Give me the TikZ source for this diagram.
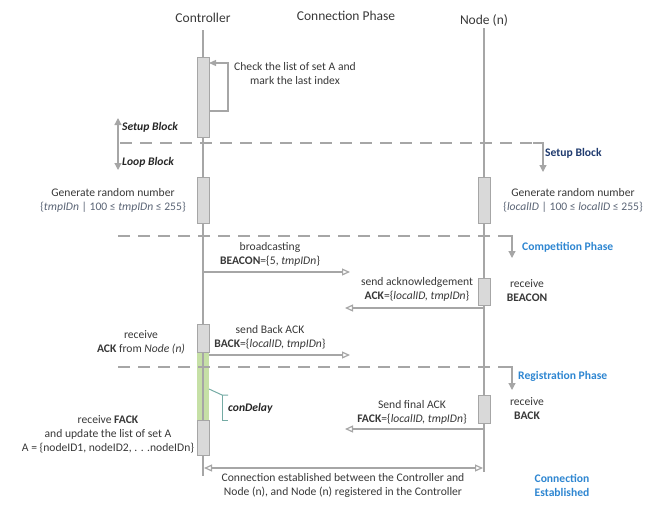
\documentclass[tikz,border=0pt]{standalone}
\usepackage{fontspec}
\setmainfont{Carlito}
\usetikzlibrary{arrows.meta}
\definecolor{lne}{HTML}{A6A6A6}
\definecolor{txt}{HTML}{383838}
\definecolor{boxfill}{HTML}{D9D9D9}
\definecolor{boxdraw}{HTML}{A6A6A6}
\definecolor{phaseblue}{HTML}{2E86D1}
\definecolor{setupblue}{HTML}{1F3A6E}
\definecolor{formula}{HTML}{5A6475}
\definecolor{greenbar}{HTML}{C6E0A6}
\definecolor{bracketc}{HTML}{74ABA4}
\tikzset{
  life/.style={draw=lne, line width=1.6pt},
  act/.style={draw=boxdraw, fill=boxfill, line width=0.9pt, minimum width=12pt, inner sep=0pt},
  msg/.style={draw=lne, line width=1.2pt, -{Triangle[open,length=8pt,width=7pt]}},
  dmsg/.style={draw=lne, line width=1.2pt, {Triangle[open,length=8pt,width=7pt]}-{Triangle[open,length=8pt,width=7pt]}},
  phaseline/.style={draw=lne, line width=1.2pt, dash pattern=on 12pt off 8pt},
  phasearrow/.style={draw=lne, line width=1.2pt, -{Triangle[length=7pt,width=7pt]}},
  lbl/.style={text=txt, font=\fontsize{11.6}{14}\selectfont, align=center, inner sep=0pt},
  ttl/.style={text=txt, font=\fontsize{13.5}{16}\selectfont, inner sep=0pt},
  phlbl/.style={text=phaseblue, font=\fontsize{11.6}{14}\selectfont\bfseries, align=left, inner sep=0pt, anchor=west},
  bilbl/.style={lbl, anchor=west, font=\fontsize{11.6}{14}\selectfont\bfseries\itshape, text=black!85},
}
\begin{document}
\begin{tikzpicture}[x=1pt,y=-1pt]
\useasboundingbox (0,0) rectangle (653,504);
% titles
\node[ttl] (tc) at (203,18) {Controller};
\node[ttl] (tp) at (346,16) {Connection Phase};
\node[ttl] (tn) at (484,20) {Node (n)};
% lifelines
\coordinate (ctop) at (203,30);
\coordinate (cbot) at (203,476);
\coordinate (ntop) at (484,28);
\coordinate (nbot) at (484,472);
\draw[life] (ctop) -- (cbot);
\draw[life] (ntop) -- (nbot);
% green delay bar
\node[fill=greenbar, minimum width=12pt, minimum height=68pt, inner sep=0pt] (gbar) at (203,386) {};
\draw[draw=lne, line width=1.6pt] (gbar.north) -- (gbar.south);
% activation boxes
\node[act, minimum height=80pt] (c1) at (203,97) {};
\node[act, minimum height=46pt] (c2) at (203,200) {};
\node[act, minimum height=28pt] (c3) at (203,338) {};
\node[act, minimum height=35pt] (c4) at (203,437.5) {};
\node[act, minimum height=46pt] (n1) at (484,200) {};
\node[act, minimum height=27pt] (n2) at (484,291.5) {};
\node[act, minimum height=28pt] (n3) at (484,409) {};
% self message
\coordinate (s1) at (209,111);
\coordinate (s2) at (228,111);
\coordinate (s3) at (228,63);
\coordinate (s4) at (209,63);
\draw[draw=lne, line width=1.2pt, -{Triangle[length=7pt,width=6pt]}] (s1) -- (s2) -- (s3) -- (s4);
\node[lbl] (selftxt) at (295,74) {Check the list of set A and\\mark the last index};
% setup / loop block arrow on left
\coordinate (lb0) at (118,143);
\coordinate (lbu) at (118,118);
\coordinate (lbd) at (118,170);
\draw[phasearrow] (lb0) -- (lbu);
\draw[phasearrow] (lb0) -- (lbd);
\node[bilbl] (sbl) at (122,127) {Setup Block};
\node[bilbl] (lbl1) at (122,162) {Loop Block};
% phase lines
\coordinate (p1a) at (120,143);
\coordinate (p1b) at (533,143);
\coordinate (p1c) at (543,143);
\coordinate (p1d) at (543,172);
\draw[phaseline] (p1a) -- (p1b);
\draw[phasearrow] (p1b) -- (p1c) -- (p1d);
\node[phlbl, text=setupblue] (sbr) at (545,153) {Setup Block};
\coordinate (p2a) at (118,236);
\coordinate (p2b) at (502,236);
\coordinate (p2c) at (512,236);
\coordinate (p2d) at (512,258);
\draw[phaseline] (p2a) -- (p2b);
\draw[phasearrow] (p2b) -- (p2c) -- (p2d);
\node[phlbl] (cph) at (522,247) {Competition Phase};
\coordinate (p3a) at (118,367);
\coordinate (p3b) at (502,367);
\coordinate (p3c) at (512,367);
\coordinate (p3d) at (512,390);
\draw[phaseline] (p3a) -- (p3b);
\draw[phasearrow] (p3b) -- (p3c) -- (p3d);
\node[phlbl] (rph) at (518,376) {Registration Phase};
% generate random number texts
\node[lbl] (gl) at (113,200) {Generate random number\\{\color{formula}\{\textit{tmpIDn} | 100 ≤ \textit{tmpIDn} ≤ 255\}}};
\node[lbl] (gr) at (573,200) {Generate random number\\{\color{formula}\{\textit{localID} | 100 ≤ \textit{localID} ≤ 255\}}};
% BEACON
\coordinate (bS) at (203,272);
\coordinate (bE) at (350,272);
\draw[msg] (bS) -- (bE);
\node[lbl] (bt) at (270,254) {broadcasting\\\textbf{BEACON}=\{5, \textit{tmpIDn}\}};
% ACK
\coordinate (aS) at (484,308);
\coordinate (aE) at (345,308);
\draw[msg] (aS) -- (aE);
\node[lbl] (at) at (417,289) {send acknowledgement\\\textbf{ACK}=\{\textit{localID, tmpIDn}\}};
\node[lbl] (rb) at (527,291) {receive\\\textbf{BEACON}};
% BACK
\coordinate (kS) at (209,355);
\coordinate (kE) at (350,355);
\draw[msg] (kS) -- (kE);
\node[lbl] (kt) at (270,337) {send Back ACK\\\textbf{BACK}=\{\textit{localID, tmpIDn}\}};
\node[lbl] (ra) at (141,342) {receive\\\textbf{ACK} from \textit{Node (n)}};
% conDelay bracket
\coordinate (d0) at (209,389);
\coordinate (d1) at (222,395);
\coordinate (d2) at (228,395);
\coordinate (d3) at (222,420);
\coordinate (d4) at (228,420);
\draw[draw=bracketc, line width=1pt] (d0) -- (d1) -- (d2);
\draw[draw=bracketc, line width=1pt] (d1) -- (d3) -- (d4);
\node[bilbl] (cd) at (228,408) {conDelay};
% FACK
\coordinate (fS) at (484,429);
\coordinate (fE) at (345,429);
\draw[msg] (fS) -- (fE);
\node[lbl] (ft) at (412,412) {Send final ACK\\\textbf{FACK}=\{\textit{localID, tmpIDn}\}};
\node[lbl] (rk) at (527,409) {receive\\\textbf{BACK}};
\node[lbl] (rf) at (108,434) {receive \textbf{FACK}\\and update the list of set A\\A = \{nodeID1, nodeID2, . . .nodeIDn\}};
% connection established
\coordinate (eS) at (204,468);
\coordinate (eE) at (483,468);
\draw[dmsg] (eS) -- (eE);
\node[lbl] (et) at (343,485) {Connection established between the Controller and\\Node (n), and Node (n) registered in the Controller};
\node[lbl, text=phaseblue, font=\fontsize{11.6}{14}\selectfont\bfseries] (ce) at (562,485) {Connection\\Established};
\end{tikzpicture}
\end{document}
